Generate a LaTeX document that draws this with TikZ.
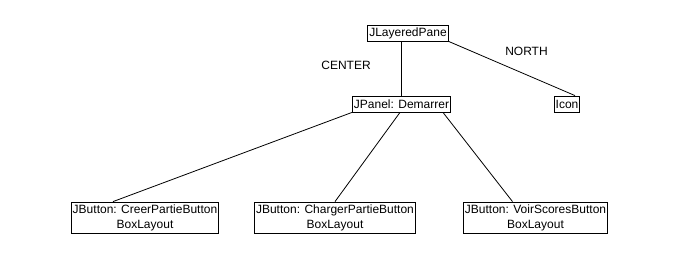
\documentclass[tikz,border=0pt]{standalone}
\usepackage{fontspec}
\setmainfont{Liberation Sans}
\usepackage{tikz}
\usetikzlibrary{positioning}

\begin{document}
\begin{tikzpicture}[x=1pt,y=-1pt,line width=0.8pt,
                    comp node/.style={rectangle,draw,inner xsep=1.5pt,inner ysep=0pt,
                                      minimum height=16pt,font=\fontsize{12}{15}\selectfont},
                    button node/.style={comp node,align=center,minimum height=31pt},
                    tag/.style={font=\fontsize{12}{15}\selectfont}]

  \useasboundingbox (0,0) rectangle (680,273);

  \node[comp node] (pane)  at (408,33)  {JLayeredPane};
  \node[comp node] (panel) at (401.5,104) {JPanel: Demarrer};
  \node[comp node] (icon)  at (567,104) {Icon};
  \node[button node] (creer)   at (145,217.5) {JButton: CreerPartieButton\\BoxLayout};
  \node[button node] (charger) at (335,217.5) {JButton: ChargerPartieButton\\BoxLayout};
  \node[button node] (voir)    at (535.5,217.5) {JButton: VoirScoresButton\\BoxLayout};

  \node[tag] (center) at (346,65.5) {CENTER};
  \node[tag] (north)  at (526.5,51.5) {NORTH};

  \path
    (panel.north |- pane.south) edge (panel.north)
    (pane.south east) edge ([xshift=8pt]icon.north)
    (panel.south west) edge ([xshift=-32pt]creer.north)
    ([xshift=-1.5pt]panel.south) edge (charger.north)
    ([xshift=-8pt]panel.south east) edge ([xshift=-23pt]voir.north);
\end{tikzpicture}
\end{document}
